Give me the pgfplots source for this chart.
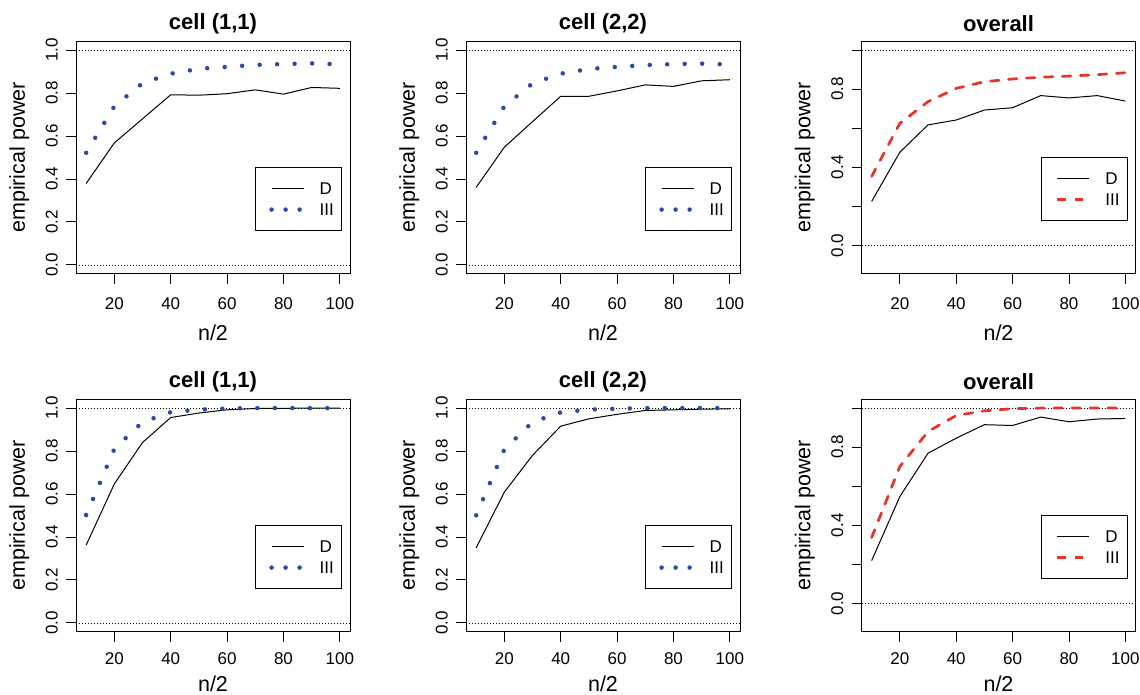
\documentclass[border=0pt]{standalone}
\usepackage{fontspec}
\setmainfont{Liberation Sans}
\usepackage{pgfplots}
\usepackage{pgfplotstable}
\pgfplotsset{compat=1.18}

\definecolor{dotblue}{RGB}{46,72,168}
\definecolor{dashred}{RGB}{232,50,40}

% n/2, power of D and of III
\pgfplotstableread{
n   D     III
10  0.379 0.522
20  0.568 0.738
30  0.680 0.846
40  0.792 0.890
50  0.790 0.913
60  0.797 0.922
70  0.815 0.931
80  0.795 0.935
90  0.826 0.938
100 0.822 0.934
}\topA
\pgfplotstableread{
n   D     III
10  0.361 0.522
20  0.548 0.738
30  0.667 0.845
40  0.785 0.890
50  0.785 0.912
60  0.810 0.922
70  0.838 0.930
80  0.831 0.935
90  0.857 0.937
100 0.862 0.933
}\topB
\pgfplotstableread{
n   D     III
10  0.225 0.353
20  0.477 0.625
30  0.617 0.736
40  0.642 0.804
50  0.693 0.838
60  0.705 0.852
70  0.767 0.861
80  0.755 0.867
90  0.767 0.874
100 0.739 0.884
}\topC
\pgfplotstableread{
n   D     III
10  0.362 0.502
20  0.647 0.810
30  0.840 0.935
40  0.956 0.981
50  0.977 0.993
60  0.992 0.998
70  0.998 1.000
80  0.999 1.000
90  1.000 1.000
100 1.000 1.000
}\botA
\pgfplotstableread{
n   D     III
10  0.349 0.501
20  0.609 0.808
30  0.780 0.935
40  0.916 0.980
50  0.950 0.993
60  0.971 0.997
70  0.989 1.000
80  0.992 1.000
90  0.995 1.000
100 0.997 1.000
}\botB
\pgfplotstableread{
n   D     III
10  0.219 0.337
20  0.547 0.701
30  0.769 0.880
40  0.846 0.962
50  0.915 0.986
60  0.911 0.997
70  0.954 1.000
80  0.930 1.000
90  0.944 1.000
100 0.947 1.000
}\botC

\tikzset{legend dash/.style={}}
\pgfplotsset{
  legend image code/.code={
    \path[draw=none, fill=none] (0pt,-10.5pt) rectangle (64pt,10.5pt);
    \draw[#1, legend dash] (16pt,0pt) -- (48pt,0pt);},
  every axis title shift=0pt,
  rpanel/.style={
    scale only axis, width=274pt, height=232pt,
    xmin=6.4, xmax=103.6,
    xtick={20,40,60,80,100}, xticklabels={20,40,60,80,100},
    tick align=outside, major tick length=10pt,
    xtick pos=bottom, ytick pos=left,
    tick style={black, line width=0.9pt},
    axis line style={line width=0.9pt},
    tick label style={font=\fontsize{17}{17}\selectfont, inner sep=0pt},
    xticklabel style={anchor=north},
    yticklabel style={rotate=90, anchor=south},
    xticklabel shift=13.7pt, yticklabel shift=8pt,
    label style={font=\fontsize{21.5}{21.5}\selectfont},
    xlabel={n/2}, ylabel={empirical power},
    xlabel style={at={(axis description cs:0.5,-0.255)}, anchor=center},
    ylabel style={at={(axis description cs:-0.207,0.5)}, anchor=center},
    title style={at={(axis description cs:0.5,1.076)}, anchor=center,
      font=\bfseries\fontsize{22}{22}\selectfont},
    legend style={anchor=south east, draw=black, line width=0.9pt, fill=white,
      inner xsep=0pt, inner ysep=10.5pt, row sep=0pt,
      font=\fontsize{17}{17}\selectfont,
      nodes={inner sep=0pt, text height=16.5pt, text depth=4.5pt, text width=22pt}},
    legend cell align=left,
  },
  % lower row: the page ends just below its x labels
  lowrow/.style={xticklabel shift=10.5pt,
    xlabel style={at={(axis description cs:0.5,-0.226)}, inner sep=0pt}},
  cellpanel/.style={rpanel, ymin=-0.04, ymax=1.04,
    ytick={0,0.2,0.4,0.6,0.8,1}, yticklabels={0.0,0.2,0.4,0.6,0.8,1.0},
    legend style={at={(rel axis cs:0.971,0.183)}}},
  allpanel/.style={rpanel, ymin=-0.144, ymax=1.044,
    ytick={0,0.2,0.4,0.6,0.8,1}, yticklabels={0.0,,0.4,,0.8,},
    legend style={at={(rel axis cs:0.972,0.227)}}},
  refline/.style={black, line width=0.8pt, dash pattern=on 1.2pt off 1.8pt, forget plot},
  dline/.style={black, line width=1pt},
  dotline/.style={dotblue, line width=4.5pt, line cap=round, dash pattern=on 0pt off 17.5pt,
    /tikz/legend dash/.style={dash pattern=on 0pt off 14pt}},
  redline/.style={dashred, line width=2.7pt, line cap=round, dash pattern=on 8.5pt off 9.5pt,
    /tikz/legend dash/.style={line cap=butt, dash pattern=on 8.5pt off 9pt}},
}

\newcommand{\refs}{%
  \addplot[refline] coordinates {(6.4,0) (103.6,0)};
  \addplot[refline] coordinates {(6.4,1) (103.6,1)};}

\begin{document}
\begin{tikzpicture}
\useasboundingbox (0,0) rectangle (1140pt,-695pt);

\begin{axis}[cellpanel, at={(76pt,-273.5pt)}, anchor=south west, title={cell (1,1)}]
  \refs
  \addplot[dline] table[x=n, y=D] {\topA};
  \addplot[dotline] table[x=n, y=III] {\topA};
  \legend{D,III}
\end{axis}

\begin{axis}[cellpanel, at={(466pt,-273.5pt)}, anchor=south west, title={cell (2,2)}]
  \refs
  \addplot[dline] table[x=n, y=D] {\topB};
  \addplot[dotline] table[x=n, y=III] {\topB};
  \legend{D,III}
\end{axis}

\begin{axis}[allpanel, at={(861.5pt,-273.5pt)}, anchor=south west, title={overall}]
  \refs
  \addplot[dline] table[x=n, y=D] {\topC};
  \addplot[redline] table[x=n, y=III] {\topC};
  \legend{D,III}
\end{axis}

\begin{axis}[cellpanel, lowrow, at={(76pt,-631.5pt)}, anchor=south west, title={cell (1,1)}]
  \refs
  \addplot[dline] table[x=n, y=D] {\botA};
  \addplot[dotline] table[x=n, y=III] {\botA};
  \legend{D,III}
\end{axis}

\begin{axis}[cellpanel, lowrow, at={(466pt,-631.5pt)}, anchor=south west, title={cell (2,2)}]
  \refs
  \addplot[dline] table[x=n, y=D] {\botB};
  \addplot[dotline] table[x=n, y=III] {\botB};
  \legend{D,III}
\end{axis}

\begin{axis}[allpanel, lowrow, at={(861.5pt,-631.5pt)}, anchor=south west, title={overall}]
  \refs
  \addplot[dline] table[x=n, y=D] {\botC};
  \addplot[redline] table[x=n, y=III] {\botC};
  \legend{D,III}
\end{axis}
\end{tikzpicture}
\end{document}
